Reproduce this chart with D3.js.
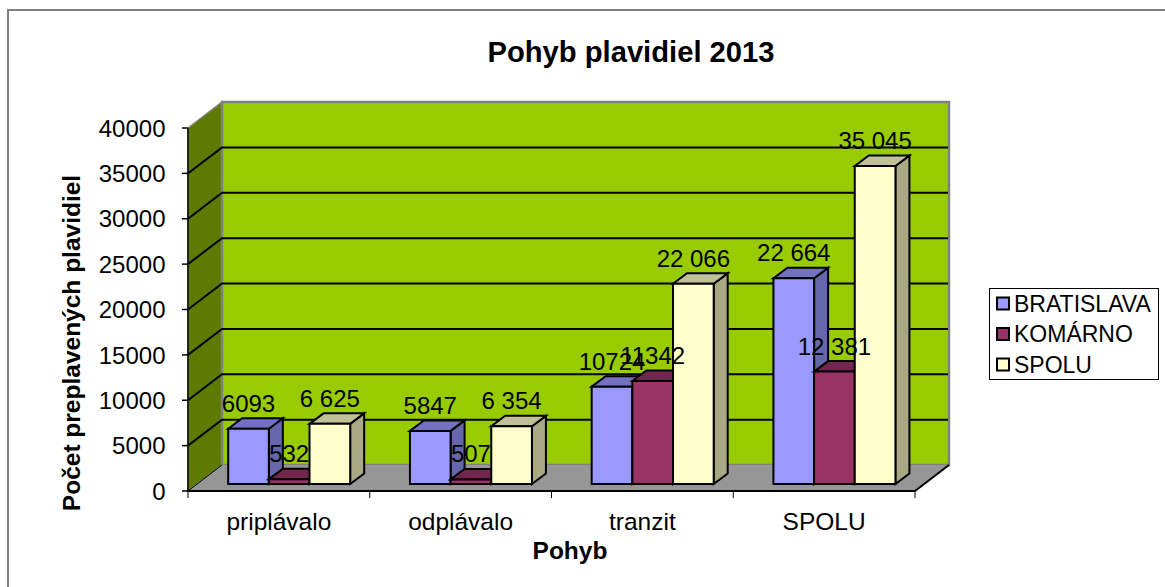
<!DOCTYPE html>
<html><head><meta charset="utf-8">
<script src="https://cdn.jsdelivr.net/npm/d3@7"></script>
<style>html,body{margin:0;padding:0;background:#fff}svg{display:block}text{font-family:"Liberation Sans",Arial,sans-serif;fill:#000}</style>
</head><body><svg id="c" width="1165" height="587"></svg>
<script>
const categories = ["priplávalo","odplávalo","tranzit","SPOLU"];
const seriesNames = ["BRATISLAVA","KOMÁRNO","SPOLU"];
const bratislava = [6093,5847,10724,22664];
const komarno = [532,507,11342,12381];
const spolu = [6625,6354,22066,35045];
const bratislavaLabels = ["6093","5847","10724","22 664"];
const komarnoLabels = ["532","507","11342","12 381"];
const spoluLabels = ["6 625","6 354","22 066","35 045"];
const yTicks = [0,5000,10000,15000,20000,25000,30000,35000,40000];
const title = "Pohyb plavidiel 2013";
const xTitle = "Pohyb";
const yTitle = "Počet preplavených plavidiel";

const svg = d3.select("#c");
const DX = 34, DY = 26, Y0 = 491, Y1 = 128, X0 = 188, X1 = 915;
const x = d3.scaleBand().domain(categories).range([X0, X1]);
const y = d3.scaleLinear().domain([0,40000]).range([Y0,Y1]);
const s = d3.scaleBand().domain(seriesNames).range([31, 153]);
const FONT = 24;
const line = (pts,stroke,w) => svg.append("path").attr("d",d3.line()(pts)).attr("fill","none").attr("stroke",stroke).attr("stroke-width",w);
const poly = (pts,fill,stroke="#000",w=2) => svg.append("path").attr("d",d3.line()(pts)+"Z").attr("fill",fill).attr("stroke",stroke).attr("stroke-width",w).attr("stroke-linejoin","miter");

// chart frame (only the top and left edges are inside the picture)
line([[8,600],[8,10],[1165,10]],"#808080",2);

// walls and floor
poly([[X0,Y1],[X0+DX,Y1-DY],[X0+DX,Y0-DY],[X0,Y0]],"#5f7a00","#808080",1.5);
poly([[X0+DX,Y1-DY],[X1+DX,Y1-DY],[X1+DX,Y0-DY],[X0+DX,Y0-DY]],"#99cc00","#808080",2.5);
poly([[X0,Y0],[X0+DX,Y0-DY],[X1+DX,Y0-DY],[X1,Y0]],"#969696","none",0);

// gridlines
yTicks.slice(1,-1).forEach(t=>{
  line([[X0,y(t)],[X0+DX,y(t)-DY],[X1+DX-1,y(t)-DY]],"#000",2);
});
line([[X0,Y0],[X1,Y0],[X1+DX,Y0-DY]],"#000",2);
line([[X0,Y0],[X0+DX,Y0-DY]],"#000",1);
line([[X0,Y1],[X0,Y0]],"#000",1.5);

// axes
yTicks.forEach(t=>{
  line([[X0-6,y(t)],[X0,y(t)]],"#000",1.5);
  svg.append("text").attr("x",165.5).attr("y",y(t)).attr("dy","0.36em").attr("text-anchor","end").style("font-size",FONT+"px").text(t);
});
[...categories.map(c=>x(c)),X1].forEach(v=>line([[v,Y0],[v,Y0+7]],"#000",1));
categories.forEach(c=>{
  svg.append("text").attr("x",x(c)+x.bandwidth()/2).attr("y",530).attr("text-anchor","middle").style("font-size","24.5px").text(c);
});

// bars
const barFront = 0.27, barDepthX = 14, barDepthY = 10.5;
const colors = ["#9999ff","#993366","#ffffcc"];
const tops = ["#7272c0","#73264d","#c0c099"];
const sides = ["#6666aa","#662244","#a8a884"];
const series = [bratislava,komarno,spolu];
const labels = [bratislavaLabels,komarnoLabels,spoluLabels];
const base = Y0 - DY*barFront, ox = DX*barFront;
categories.forEach((c,ci)=>{
  seriesNames.forEach((n,si)=>{
    const v = series[si][ci];
    const xl = x(c)+ox+s(n), w = s.bandwidth();
    const yt = y(v)-DY*barFront;
    poly([[xl+w,base],[xl+w+barDepthX,base-barDepthY],[xl+w+barDepthX,yt-barDepthY],[xl+w,yt]],sides[si]);
    poly([[xl,yt],[xl+barDepthX,yt-barDepthY],[xl+w+barDepthX,yt-barDepthY],[xl+w,yt]],tops[si]);
    poly([[xl,base],[xl,yt],[xl+w,yt],[xl+w,base]],colors[si]);
  });
});
categories.forEach((c,ci)=>{
  seriesNames.forEach((n,si)=>{
    const yt = y(series[si][ci])-DY*barFront;
    svg.append("text").attr("x",x(c)+ox+s(n)+s.bandwidth()/2).attr("y",yt-17).attr("text-anchor","middle").style("font-size",FONT+"px").text(labels[si][ci]);
  });
});

// titles
svg.append("text").attr("x",631).attr("y",62).attr("text-anchor","middle").style("font-size","29.2px").style("font-weight","bold").text(title);
svg.append("text").attr("x",570).attr("y",559).attr("text-anchor","middle").style("font-size","24.5px").style("font-weight","bold").text(xTitle);
svg.append("text").attr("transform","translate(80,343) rotate(-90)").attr("text-anchor","middle").style("font-size","24.5px").style("font-weight","bold").text(yTitle);

// legend
svg.append("rect").attr("x",989.5).attr("y",288.5).attr("width",169).attr("height",91).attr("fill","#fff").attr("stroke","#000").attr("stroke-width",1);
seriesNames.forEach((n,i)=>{
  const ly = 303.5+i*30.5;
  svg.append("rect").attr("x",997).attr("y",ly-6).attr("width",12).attr("height",12).attr("fill",colors[i]).attr("stroke","#000").attr("stroke-width",2);
  svg.append("text").attr("x",1014).attr("y",ly).attr("dy","0.36em").style("font-size","23px").text(n);
});
</script></body></html>
